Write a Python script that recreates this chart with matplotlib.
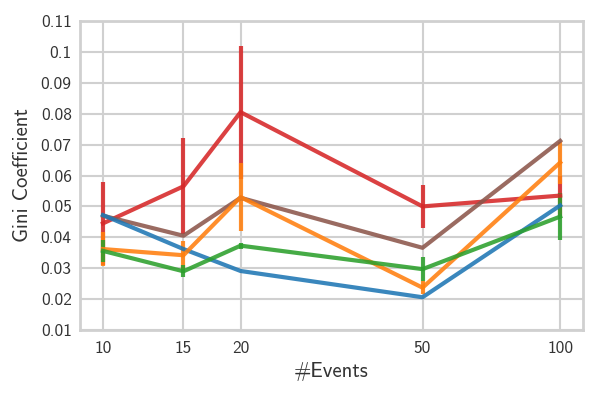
import numpy as np
import matplotlib
matplotlib.use("Agg")
import matplotlib.pyplot as plt
from matplotlib.ticker import FuncFormatter, FixedLocator, NullLocator

# events on the x axis
events = [10, 15, 20, 50, 100]

# mean gini coefficient per series
gini_blue = [0.0472, 0.0362, 0.0291, 0.0206, 0.0503]
gini_orange = [0.0362, 0.0342, 0.0530, 0.0237, 0.0642]
gini_green = [0.0356, 0.0290, 0.0373, 0.0297, 0.0467]
gini_red = [0.0445, 0.0565, 0.0805, 0.0500, 0.0535]
gini_brown = [0.0470, 0.0405, 0.0528, 0.0366, 0.0712]

# half-widths of the error bars
err_blue = [0.0, 0.0, 0.0, 0.0, 0.0]
err_orange = [0.0055, 0.0045, 0.0110, 0.0020, 0.0068]
err_green = [0.0035, 0.0020, 0.0010, 0.0040, 0.0075]
err_red = [0.0135, 0.0155, 0.0215, 0.0070, 0.0065]
err_brown = [0.0, 0.0, 0.0, 0.0, 0.0]

yticks = [0.01, 0.02, 0.03, 0.04, 0.05, 0.06, 0.07, 0.08, 0.09, 0.1, 0.11]

plt.rcParams['font.family'] = ['cmss10', 'DejaVu Sans']
plt.rcParams['axes.unicode_minus'] = False
plt.rcParams['mathtext.fontset'] = 'cm'

fig = plt.figure(figsize=(5.98, 3.94), dpi=100)
ax = fig.add_axes([0.1338, 0.1624, 0.975 - 0.1338, 0.9467 - 0.1624])

series = [
    (gini_red, err_red, '#d62728'),
    (gini_brown, err_brown, '#8c564b'),
    (gini_blue, err_blue, '#1f77b4'),
    (gini_orange, err_orange, '#ff7f0e'),
    (gini_green, err_green, '#2ca02c'),
]
for vals, errs, col in series:
    ax.errorbar(events, vals, yerr=errs, color=col, lw=3, elinewidth=3,
                capsize=0, alpha=0.88)

ax.set_xscale('log')
ax.xaxis.set_major_locator(FixedLocator(events))
ax.xaxis.set_minor_locator(NullLocator())
ax.xaxis.set_major_formatter(FuncFormatter(lambda v, p: '%d' % v))
ax.set_xlim(8.91, 112.2)
ax.set_ylim(0.01, 0.11)
ax.set_yticks(yticks)
ax.yaxis.set_major_formatter(FuncFormatter(lambda v, p: '%g' % round(v, 3)))

ax.grid(True, color='#d0d0d0', lw=1.5)
ax.set_axisbelow(True)
for s in ax.spines.values():
    s.set_color('#d0d0d0')
    s.set_linewidth(2)
ax.tick_params(length=0, labelsize=12.5, labelcolor='#333333')
ax.tick_params(axis='x', pad=8)
ax.tick_params(axis='y', pad=6)

ax.set_xlabel('#Events', fontsize=15, color='#333333', labelpad=4)
ax.set_ylabel('Gini Coefficient', fontsize=15, color='#333333', labelpad=6)

fig.savefig('out.png', dpi=100)
